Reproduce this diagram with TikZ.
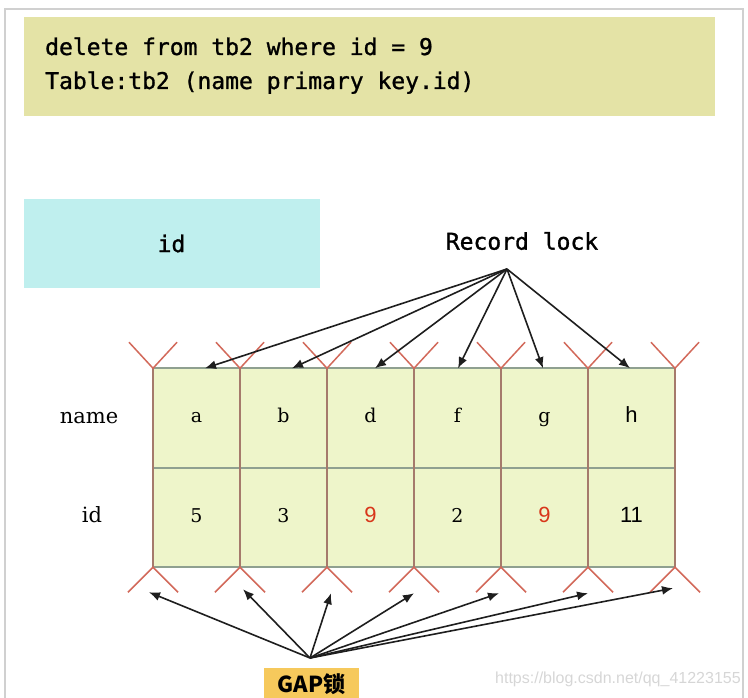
\documentclass[tikz,border=0pt]{standalone}
\usepackage{fontspec}
\usepackage{xcolor}
\usepackage{tikz}
\usetikzlibrary{arrows.meta,positioning,calc}
\newfontfamily\gothfont{DejaVu Sans Mono}[FakeBold=1.2]
\newfontfamily\arialfont{Liberation Sans}
\newfontfamily\seriffont{DejaVu Serif}
\newfontfamily\cjkfont{Noto Sans CJK SC}
\definecolor{sqlyellow}{HTML}{E4E3A6}
\definecolor{keycyan}{HTML}{BFEFEE}
\definecolor{cellgreen}{HTML}{EEF5CA}
\definecolor{gridgray}{HTML}{8FA090}
\definecolor{sepbrown}{HTML}{A57A6C}
\definecolor{gapred}{HTML}{D2695A}
\definecolor{gapgold}{HTML}{F6C95C}
\definecolor{framegray}{HTML}{D0D0D0}
\definecolor{ninered}{HTML}{D8361A}
\definecolor{arrowdark}{HTML}{1E1E1E}
\tikzset{
  sqlbox/.style={fill=sqlyellow,minimum width=691pt,minimum height=99pt,inner sep=0pt},
  keybox/.style={fill=keycyan,minimum width=296pt,minimum height=89pt,inner sep=0pt,
    font=\gothfont\fontsize{23}{23}\selectfont},
  gothtext/.style={inner sep=0pt,font=\gothfont\fontsize{23}{23}\selectfont},
  rowlabel/.style={inner sep=0pt,font=\seriffont\fontsize{21}{21}\selectfont},
  cell/.style={fill=cellgreen,minimum width=87pt,minimum height=99.5pt,inner sep=0pt,
    outer sep=0pt,text height=13pt,text depth=4pt,font=\seriffont\fontsize{19}{19}\selectfont},
  sanscell/.style={font=\arialfont\fontsize{22}{22}\selectfont},
  gridline/.style={draw=gridgray,line width=1.6pt},
  sepline/.style={draw=sepbrown,line width=1.2pt},
  gapmark/.style={draw=gapred,line width=1.5pt},
  lockarrow/.style={-{Latex[length=11pt,width=9pt]},line width=1.6pt,draw=arrowdark},
  gapbox/.style={fill=gapgold,minimum width=95pt,minimum height=33pt,inner sep=0pt,
    font=\cjkfont\bfseries\fontsize{22}{22}\selectfont}
}
\begin{document}
\begin{tikzpicture}[x=1pt,y=-1pt,node distance=0pt]
\useasboundingbox (0,0) rectangle (748,698);
\draw[framegray,line width=1.5pt] (5,698) -- (5,9) -- (743,9) -- (743,698);
\node[sqlbox] (sql) at (369.5,66.5) {};
\node[gothtext,anchor=base west] (sqla) at (45,55) {delete from tb2 where id = 9};
\node[gothtext,anchor=base west] (sqlb) at (45,89) {Table:tb2 (name primary key.id)};
\node[keybox] (key) at (171.5,243.5) {id};
\node[gothtext] (rec) at (522,241) {Record lock};
\coordinate (lock) at (507,269);
\node[rowlabel] (namelab) at (89,418) {name};
\node[rowlabel] (idlab) at (92,515) {id};
\node[cell] (n1) at (196.5,418) {a};
\node[cell,right=of n1] (n2) {b};
\node[cell,right=of n2] (n3) {d};
\node[cell,right=of n3] (n4) {f};
\node[cell,right=of n4] (n5) {g};
\node[cell,right=of n5,sanscell] (n6) {h};
\node[cell,below=of n1] (v1) {5};
\node[cell,below=of n2] (v2) {3};
\node[cell,below=of n3,sanscell,text=ninered] (v3) {9};
\node[cell,below=of n4] (v4) {2};
\node[cell,below=of n5,sanscell,text=ninered] (v5) {9};
\node[cell,below=of n6,sanscell] (v6) {11};
\draw[gridline] (n1.north west) -- (n6.north east);
\draw[gridline] (n1.south west) -- (n6.south east);
\draw[gridline] (v1.south west) -- (v6.south east);
\draw[sepline] (n1.north west) -- (v1.south west);
\draw[sepline] (n1.north east) -- (v1.south east);
\draw[sepline] (n2.north east) -- (v2.south east);
\draw[sepline] (n3.north east) -- (v3.south east);
\draw[sepline] (n4.north east) -- (v4.south east);
\draw[sepline] (n5.north east) -- (v5.south east);
\draw[sepline] (n6.north east) -- (v6.south east);
\draw[gapmark] ($(n1.north west)+(-24,-26)$) -- (n1.north west) -- ++(24,-26)
  ($(v1.south west)+(-25,25)$) -- (v1.south west) -- ++(25,25);
\draw[gapmark] ($(n1.north east)+(-24,-26)$) -- (n1.north east) -- ++(24,-26)
  ($(v1.south east)+(-25,25)$) -- (v1.south east) -- ++(25,25);
\draw[gapmark] ($(n2.north east)+(-24,-26)$) -- (n2.north east) -- ++(24,-26)
  ($(v2.south east)+(-25,25)$) -- (v2.south east) -- ++(25,25);
\draw[gapmark] ($(n3.north east)+(-24,-26)$) -- (n3.north east) -- ++(24,-26)
  ($(v3.south east)+(-25,25)$) -- (v3.south east) -- ++(25,25);
\draw[gapmark] ($(n4.north east)+(-24,-26)$) -- (n4.north east) -- ++(24,-26)
  ($(v4.south east)+(-25,25)$) -- (v4.south east) -- ++(25,25);
\draw[gapmark] ($(n5.north east)+(-24,-26)$) -- (n5.north east) -- ++(24,-26)
  ($(v5.south east)+(-25,25)$) -- (v5.south east) -- ++(25,25);
\draw[gapmark] ($(n6.north east)+(-24,-26)$) -- (n6.north east) -- ++(24,-26)
  ($(v6.south east)+(-25,25)$) -- (v6.south east) -- ++(25,25);
\draw[lockarrow] (lock) -- ([xshift=8.5pt]n1.north);
\draw[lockarrow] (lock) -- ([xshift=8.5pt]n2.north);
\draw[lockarrow] (lock) -- ([xshift=4.5pt]n3.north);
\draw[lockarrow] (lock) -- ([xshift=0.5pt]n4.north);
\draw[lockarrow] (lock) -- ([xshift=-1.5pt]n5.north);
\draw[lockarrow] (lock) -- ([xshift=-1.5pt]n6.north);
\node[gapbox] (gaplab) at (311.5,684) {GAP锁};
\coordinate (gap) at (310,658);
\draw[lockarrow] (gap) -- ($(v1.south west)+(-4,25)$);
\draw[lockarrow] (gap) -- ($(v1.south east)+(3,22)$);
\draw[lockarrow] (gap) -- ($(v2.south east)+(4,26)$);
\draw[lockarrow] (gap) -- ($(v3.south east)+(0,26)$);
\draw[lockarrow] (gap) -- ($(v4.south east)+(-2,26)$);
\draw[lockarrow] (gap) -- ($(v5.south east)+(0,26)$);
\draw[lockarrow] (gap) -- ($(v6.south east)+(-2,21)$);
\node[anchor=west,inner sep=0pt,text=black!16,font=\arialfont\fontsize{16}{16}\selectfont]
  (wmark) at (495,679) {https://blog.csdn.net/qq\_41223155};
\end{tikzpicture}
\end{document}
